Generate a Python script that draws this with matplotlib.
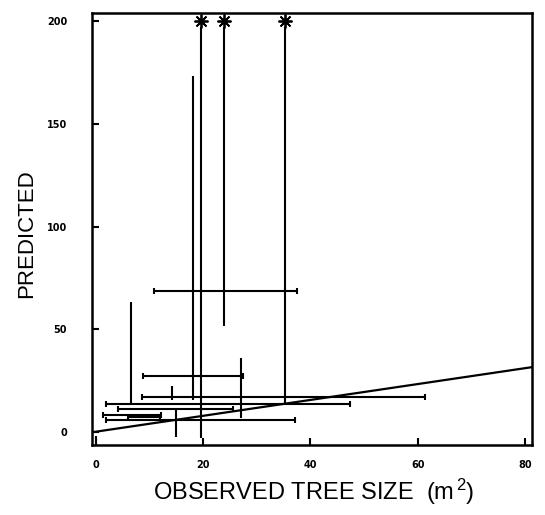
import matplotlib
matplotlib.use("Agg")
import matplotlib.pyplot as plt

plt.rcParams['font.family'] = ['Liberation Sans', 'DejaVu Sans']
plt.rcParams['mathtext.fontset'] = 'custom'
plt.rcParams['mathtext.rm'] = 'Liberation Sans'
plt.rcParams['mathtext.it'] = 'Liberation Sans'
plt.rcParams['mathtext.default'] = 'regular'

# Horizontal range bars: y level, x low, x high
hbar_y = [68.6, 27.5, 17.0, 13.9, 11.4, 8.3, 7.1, 5.8]
hbar_xlo = [10.9, 8.8, 8.6, 1.9, 4.2, 1.4, 6.0, 1.9]
hbar_xhi = [37.5, 27.4, 61.4, 47.4, 25.6, 12.2, 12.0, 37.1]

# Vertical range bars: x position, y low, y high
vbar_x = [6.6, 18.1, 19.6, 23.9, 35.3, 27.1, 14.2, 15.0, 0.1]
vbar_ylo = [14.1, 15.6, -2.9, 51.6, 13.1, 6.8, 15.6, -2.4, -6.3]
vbar_yhi = [63.3, 173.2, 197.0, 197.0, 197.0, 36.0, 22.4, 10.7, -1.9]

# Off-scale predictions (asterisks at top)
off_x = [19.6, 23.9, 35.3]
off_y = [200, 200, 200]

# Regression line end points
reg_x = [-0.7, 81.3]
reg_y = [-0.1, 31.6]

xticks = [0, 20, 40, 60, 80]
yticks = [0, 50, 100, 150, 200]

fig = plt.figure(figsize=(5.45, 5.15), dpi=100)
ax = fig.add_axes([92/545, 1 - 445/515, 440/545, 432/515])

ax.hlines(hbar_y, hbar_xlo, hbar_xhi, colors='black', linewidth=1.5)
ax.plot(hbar_xlo + hbar_xhi, hbar_y + hbar_y, linestyle='none', marker='|',
        markersize=4, markeredgewidth=1.5, color='black')
ax.vlines(vbar_x, vbar_ylo, vbar_yhi, colors='black', linewidth=1.5)
ax.plot(off_x, off_y, linestyle='none', marker=(8, 2, 0), markersize=10,
        markeredgewidth=1.3, color='black')
ax.plot(reg_x, reg_y, color='black', linewidth=1.6)

ax.set_xlim(-0.7, 81.3)
ax.set_ylim(-6.3, 204)
ax.set_xticks(xticks)
ax.set_yticks(yticks)
ax.set_xticklabels([str(v) for v in xticks], fontweight='bold', fontsize=7,
                   family='DejaVu Sans')
ax.set_yticklabels([str(v) for v in yticks], fontweight='bold', fontsize=7,
                   family='DejaVu Sans')
ax.tick_params(axis='x', direction='in', length=5, width=1.5, pad=11)
ax.tick_params(axis='y', direction='in', length=5, width=1.5, pad=18)
for s in ax.spines.values():
    s.set_linewidth(1.8)

ax.set_ylabel('PREDICTED', fontsize=16)
ax.yaxis.set_label_coords(-0.125, 0.49)
ax.set_xlabel(r'OBSERVED TREE SIZE  (m$^{\,2}$)', fontsize=17)
ax.xaxis.set_label_coords(0.505, -0.074)

fig.savefig('out.png', dpi=100)
